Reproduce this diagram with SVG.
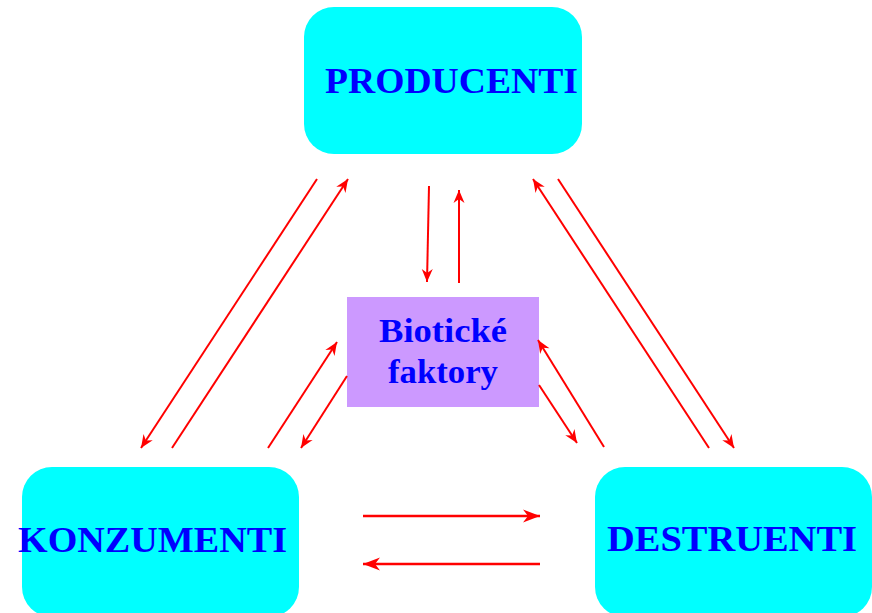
<svg xmlns="http://www.w3.org/2000/svg" width="872" height="613" viewBox="0 0 872 613">
<style>
.box{fill:#00ffff}
.bio{fill:#cc99ff}
.lbl{font-family:"Liberation Serif","DejaVu Serif",serif;font-weight:bold;fill:#0000ff}
.big{font-size:36px}
.mid{font-size:33px}
.arr{stroke:#ff0000;stroke-width:2;fill:none;marker-end:url(#ah)}
.arr2{stroke:#ff0000;stroke-width:2.6;fill:none;marker-end:url(#ah2)}
</style>
<defs>
<marker id="ah" markerUnits="userSpaceOnUse" viewBox="-14 -7 15 14" refX="0" refY="0" markerWidth="15" markerHeight="14" orient="auto">
<path d="M0,0 L-13,-5.5 L-9,0 L-13,5.5 Z" fill="#ff0000"/>
</marker>
<marker id="ah2" markerUnits="userSpaceOnUse" viewBox="-18 -8 19 16" refX="0" refY="0" markerWidth="19" markerHeight="16" orient="auto">
<path d="M0,0 L-17,-6.5 L-12,0 L-17,6.5 Z" fill="#ff0000"/>
</marker>
</defs>
<g id="producenti">
<rect class="box" x="304" y="7" width="278" height="147" rx="30" ry="30"/>
<text class="lbl big" x="325" y="93" textLength="253" lengthAdjust="spacingAndGlyphs">PRODUCENTI</text>
</g>
<g id="konzumenti">
<rect class="box" x="22" y="467" width="277" height="150" rx="30" ry="30"/>
<text class="lbl big" x="18" y="552" textLength="269" lengthAdjust="spacingAndGlyphs">KONZUMENTI</text>
</g>
<g id="destruenti">
<rect class="box" x="595" y="467" width="277" height="150" rx="30" ry="30"/>
<text class="lbl big" x="607" y="551" textLength="250" lengthAdjust="spacingAndGlyphs">DESTRUENTI</text>
</g>
<g id="bioticke">
<rect class="bio" x="347" y="297" width="192" height="110"/>
<text class="lbl mid" x="379" y="342" textLength="128" lengthAdjust="spacingAndGlyphs">Biotické</text>
<text class="lbl mid" x="388" y="383" textLength="110" lengthAdjust="spacingAndGlyphs">faktory</text>
</g>
<g id="connectors">
<line class="arr" x1="429" y1="186" x2="427" y2="282"/>
<line class="arr" x1="459" y1="283" x2="459" y2="190"/>
<line class="arr" x1="317" y1="179" x2="141" y2="448"/>
<line class="arr" x1="172" y1="448" x2="348" y2="179"/>
<line class="arr" x1="268" y1="448" x2="337" y2="342"/>
<line class="arr" x1="347" y1="376" x2="301" y2="448"/>
<line class="arr" x1="709" y1="448" x2="533" y2="179"/>
<line class="arr" x1="558" y1="179" x2="734" y2="448"/>
<line class="arr" x1="604" y1="447" x2="538" y2="340"/>
<line class="arr" x1="539" y1="385" x2="577" y2="443"/>
<line class="arr2" x1="363" y1="516" x2="540" y2="516"/>
<line class="arr2" x1="540" y1="564" x2="363" y2="564"/>
</g>
</svg>
